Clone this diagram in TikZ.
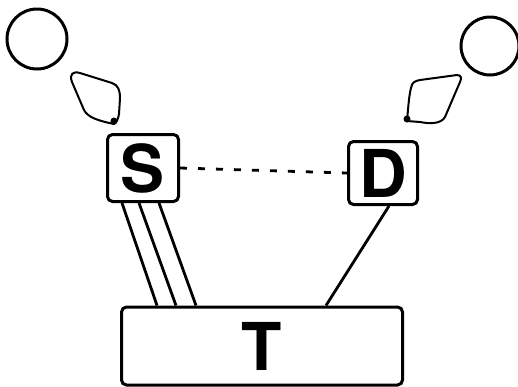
\documentclass[tikz,border=0pt]{standalone}
\usepackage{fontspec}
\setmainfont{TeX Gyre Heros}
\usepackage{tikz}
\usetikzlibrary{positioning}
\tikzset{box/.style = {draw, line width = 3pt, rounded corners = 5pt,
                       font = \fontsize{66}{66}\selectfont\bfseries, inner sep = 0}}
\tikzset{wire/.style = {line width = 2.8pt}}
\tikzset{drop/.style = {line width = 2pt, line join = round}}

\begin{document}
\begin{tikzpicture}[x=1pt, y=-1pt]
    \useasboundingbox (0, 0) rectangle (518, 386);
    \draw [line width = 3pt] (37, 39) circle [radius = 30pt];
    \draw [line width = 3pt] (490, 46) circle [radius = 29pt];
    \draw [drop] (114, 124) .. controls (100, 121) and (88, 118) .. (84, 110)
                 -- (72, 82) .. controls (69, 74) and (73, 71) .. (80, 73)
                 -- (112, 83) .. controls (118, 85) and (120, 90) .. (120, 98)
                 -- (119, 114) .. controls (118, 120) and (116, 123) .. (114, 124) -- cycle;
    \draw [drop] (407, 121) .. controls (408, 110) and (409, 95) .. (411, 88)
                 .. controls (412, 82) and (415, 81) .. (420, 80)
                 -- (457, 75) .. controls (461, 75) and (462, 78) .. (460, 82)
                 -- (445, 117) .. controls (441, 124) and (430, 124) .. (420, 122) -- cycle;
    \fill (114, 121) circle [radius = 3.5pt];
    \fill (407, 119) circle [radius = 3.5pt];
    \node [box, minimum width = 71, minimum height = 67] (S) at (143, 168) {S};
    \node [box, minimum width = 69, minimum height = 63] (D) at (383, 173) {D};
    \node [box, minimum width = 281, minimum height = 78] (T) at (262, 346) {T};
    \draw [wire, dash pattern = on 7pt off 11pt] (S.east) -- (D.west);
    \draw [wire] ([xshift = 16pt]S.south west) -- ([xshift = 37pt]T.north west);
    \draw [wire] ([xshift = 33pt]S.south west) -- ([xshift = 56pt]T.north west);
    \draw [wire] ([xshift = 53pt]S.south west) -- ([xshift = 76pt]T.north west);
    \draw [wire] ([xshift = -30pt]D.south east) -- ([xshift = -78pt]T.north east);
  \end{tikzpicture}
\end{document}
